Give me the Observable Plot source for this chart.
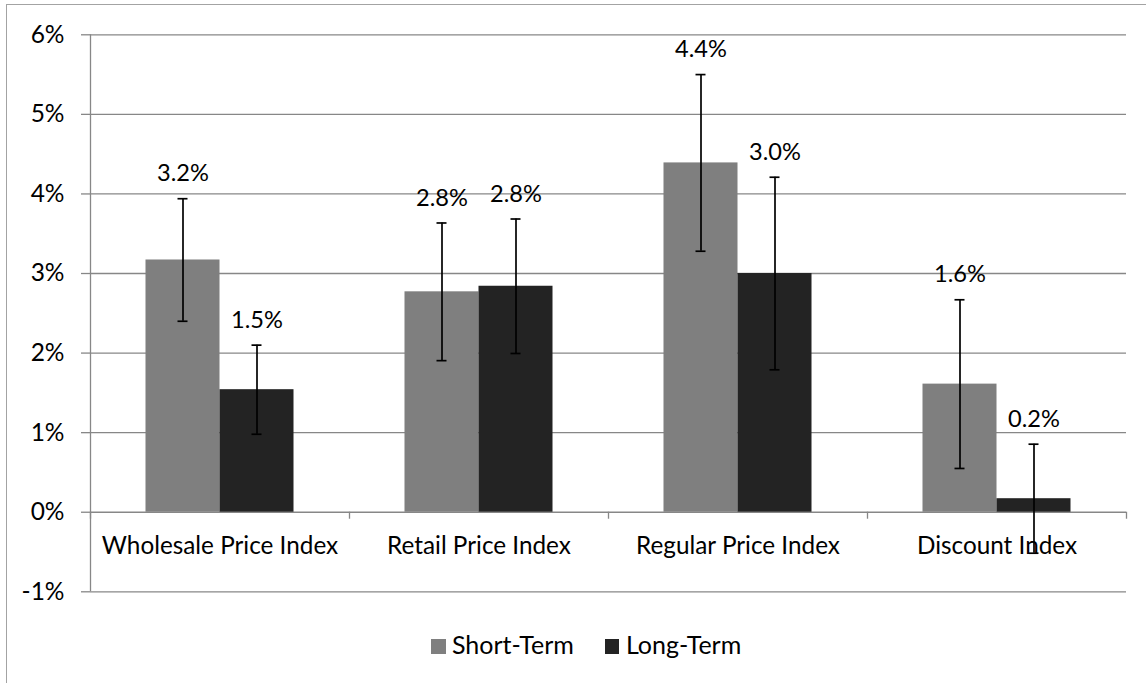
<!DOCTYPE html>
<html>
<head>
<meta charset="utf-8">
<script src="https://cdn.jsdelivr.net/npm/d3@7"></script>
<script src="https://cdn.jsdelivr.net/npm/@observablehq/plot@0.6"></script>
<style>
  body { margin: 0; background: #fff; font-family: Lato, "Open Sans", sans-serif; }
  #wrap { position: relative; width: 1146px; height: 683px; overflow: hidden; background: #fff; }
  #frame { position: absolute; left: 6px; top: 4px; right: -10px; bottom: -10px;
           border-top: 1.5px solid #a3a3a3; border-left: 1.5px solid #a3a3a3; pointer-events: none; }
  #legend { display: flex; align-items: baseline; padding-top: 8.6px; margin-left: 431px;
            font-size: 25px; line-height: 30px; color: #000; }
  .item { display: flex; align-items: baseline; margin-right: 31px; }
  .sw { width: 14.5px; height: 14.5px; display: inline-block; margin-right: 6.5px; }
</style>
</head>
<body>
<div id="wrap">
  <div id="chart"></div>
  <div id="legend"></div>
  <div id="frame"></div>
</div>
<script>
// ---- data (percent) ----
const categories = ["Wholesale Price Index", "Retail Price Index", "Regular Price Index", "Discount Index"];
const seriesNames = ["Short-Term", "Long-Term"];
const shortTerm = [3.17, 2.77, 4.39, 1.61];
const longTerm = [1.54, 2.84, 3.00, 0.17];
const shortErr = [0.77, 0.865, 1.11, 1.06];
const longErr = [0.56, 0.845, 1.21, 0.685];
const yTicks = [-1, 0, 1, 2, 3, 4, 5, 6];
const seriesColors = ["#7f7f7f", "#232323"];

// ---- layout (Excel-style clustered columns, gap width 150%) ----
const gapWidth = 1.5;
const barW = 1 / (seriesNames.length + gapWidth);
const seriesValues = [shortTerm, longTerm];
const seriesErrors = [shortErr, longErr];

const rows = [];
categories.forEach((category, i) => {
  seriesNames.forEach((series, s) => {
    const value = seriesValues[s][i];
    const err = seriesErrors[s][i];
    const x1 = i + 0.5 + (s - seriesNames.length / 2) * barW;
    rows.push({
      category, series, s, value,
      lo: value - err, hi: value + err,
      x1, x2: x1 + barW, xc: x1 + barW / 2,
      label: value.toFixed(1) + "%"
    });
  });
});

const grid = "#878787";
const marks = [
  Plot.ruleY(yTicks, {stroke: grid, strokeWidth: 1.3}),
  Plot.ruleX([0], {y1: yTicks[0], y2: yTicks[yTicks.length - 1], stroke: grid, strokeWidth: 1.3}),
  Plot.ruleX(d3.range(categories.length + 1), {y1: 0, y2: 0, insetBottom: -7, stroke: grid, strokeWidth: 1.3}),
  Plot.axisY({
    ticks: yTicks, tickSize: 9, tickPadding: 17, tickFormat: d => d + "%",
    stroke: grid, strokeWidth: 1.3, fill: "#000", fontSize: 24.5, label: null
  })
];
seriesNames.forEach((series, s) => {
  marks.push(Plot.rectY(rows.filter(d => d.s === s), {x1: "x1", x2: "x2", y: "value", fill: seriesColors[s]}));
});
marks.push(
  Plot.ruleX(rows, {x: "xc", y1: "lo", y2: "hi", stroke: "#000", strokeWidth: 1.7}),
  Plot.ruleY(rows, {y: "hi", x1: "xc", x2: "xc", insetLeft: -5, insetRight: -5, stroke: "#000", strokeWidth: 1.7}),
  Plot.ruleY(rows, {y: "lo", x1: "xc", x2: "xc", insetLeft: -5, insetRight: -5, stroke: "#000", strokeWidth: 1.7}),
  Plot.text(rows, {x: "xc", y: "hi", text: "label", dy: -25, fontSize: 23.6, fill: "#000"}),
  Plot.text(categories, {x: (d, i) => i + 0.5, y: 0, text: d => d, dy: 34.2, fontSize: 24.3, fill: "#000"})
);

const chart = Plot.plot({
  width: 1146,
  height: 620,
  marginLeft: 90,
  marginRight: 20,
  marginTop: 34.3,
  marginBottom: 28.7,
  style: {fontFamily: "Lato, 'Open Sans', sans-serif", fontSize: "24px", background: "transparent", color: "#000", overflow: "visible"},
  x: {type: "linear", domain: [0, categories.length], axis: null},
  y: {domain: [yTicks[0], yTicks[yTicks.length - 1]]},
  marks
});
document.getElementById("chart").appendChild(chart);

// legend below the svg
const legend = document.getElementById("legend");
seriesNames.forEach((name, s) => {
  const item = document.createElement("div");
  item.className = "item";
  const sw = document.createElement("span");
  sw.className = "sw";
  sw.style.background = seriesColors[s];
  const label = document.createElement("span");
  label.textContent = name;
  item.appendChild(sw);
  item.appendChild(label);
  legend.appendChild(item);
});
</script>
</body>
</html>
